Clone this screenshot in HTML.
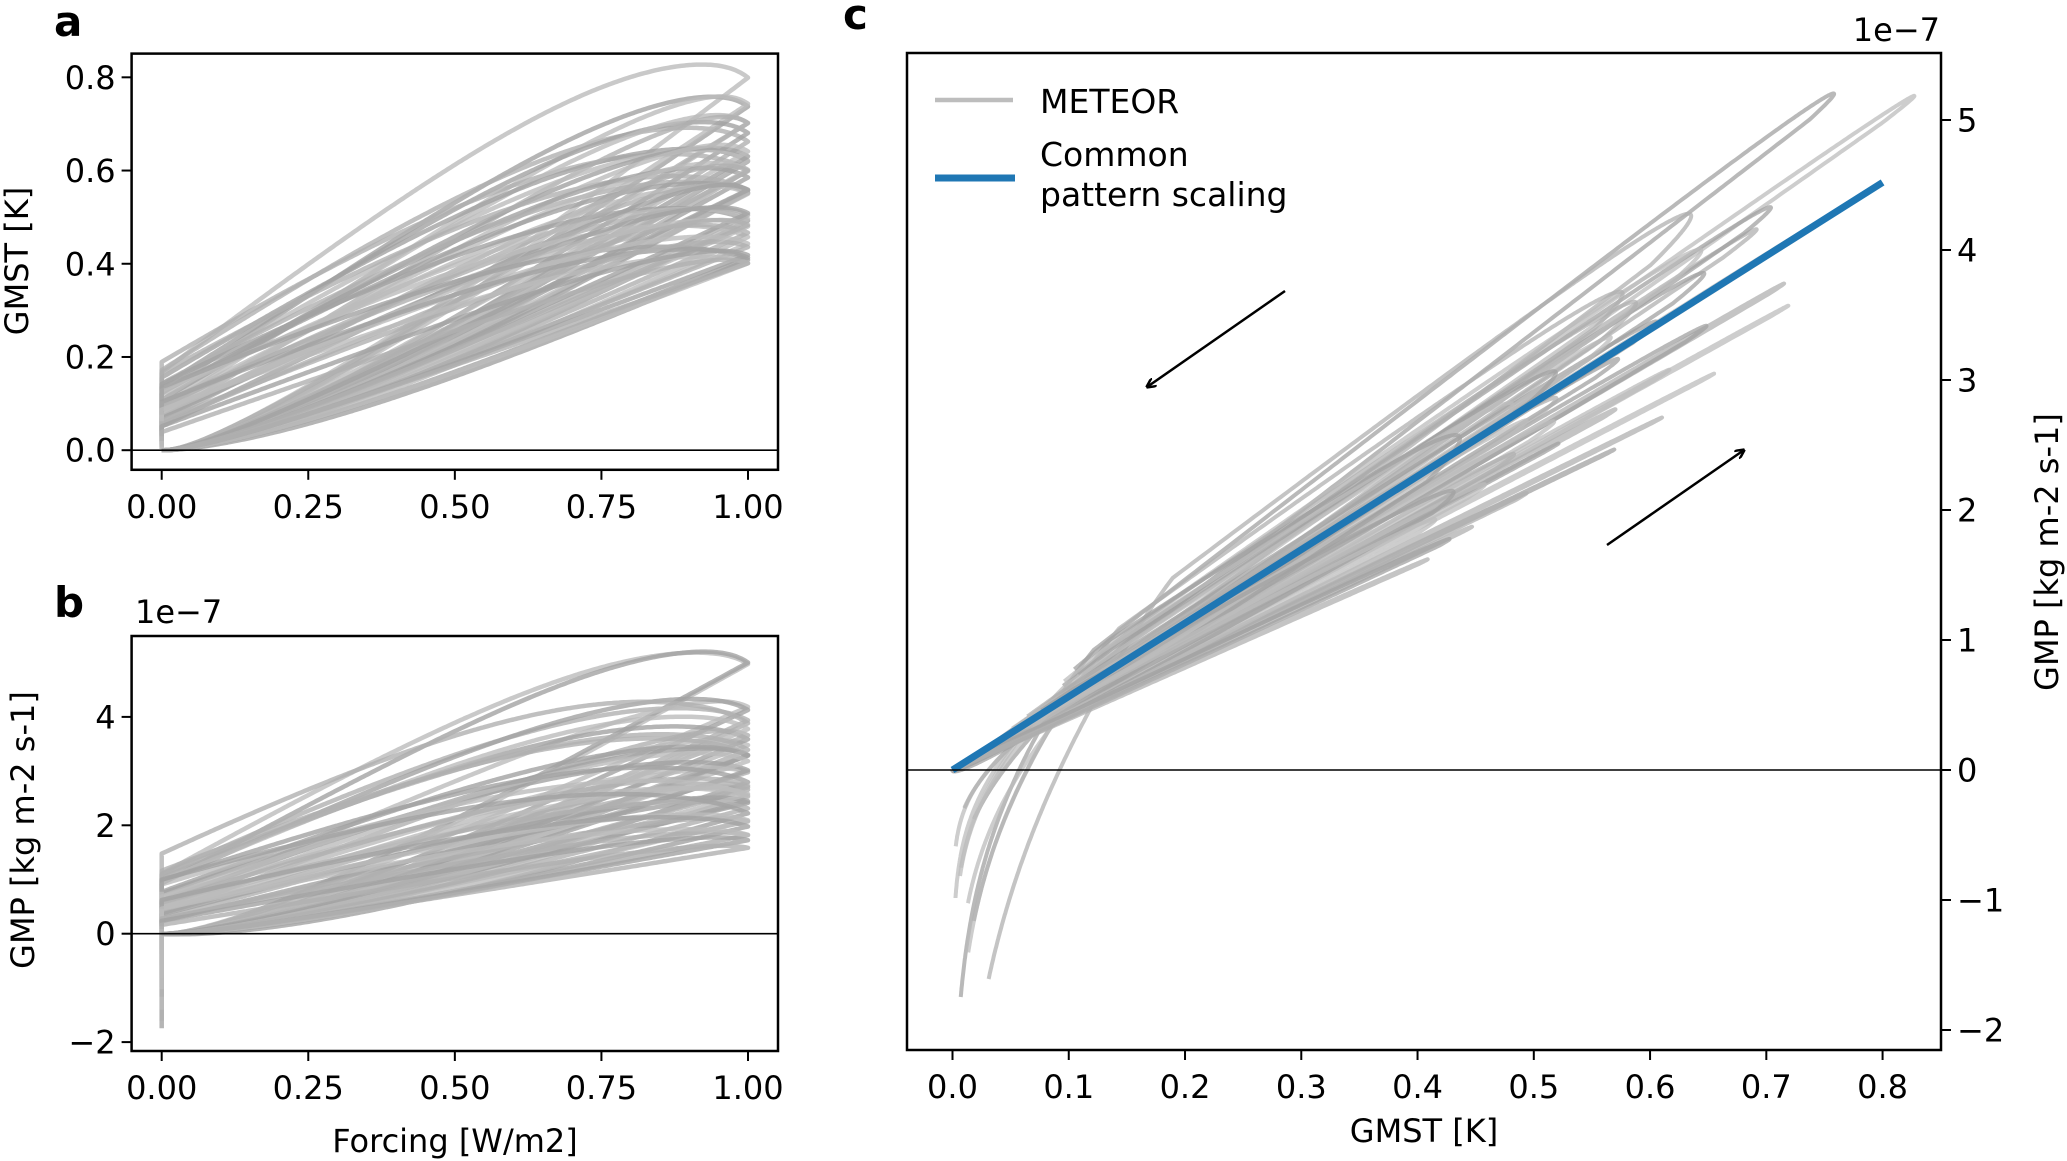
<!DOCTYPE html>
<html><head><meta charset="utf-8"><style>
html,body{margin:0;padding:0;background:#fff;}
svg{display:block;font-family:"DejaVu Sans","Liberation Sans",sans-serif;}
</style></head><body>
<svg id="fig" width="2067" height="1161" viewBox="0 0 2067 1161" xmlns="http://www.w3.org/2000/svg">
<defs>
<clipPath id="clipA"><rect x="131.6" y="53.6" width="646.4" height="416.2"/></clipPath>
<clipPath id="clipB"><rect x="131.6" y="636" width="646.4" height="415"/></clipPath>
<clipPath id="clipC"><rect x="907" y="53" width="1034" height="997"/></clipPath>
<marker id="arrowhead" markerWidth="10" markerHeight="10" refX="9" refY="5" orient="auto" markerUnits="userSpaceOnUse"><path d="M0,0 L10,5 L0,10" fill="none" stroke="#000" stroke-width="2.5"/></marker>
</defs>
<g id="panelA"><g id="linesA" clip-path="url(#clipA)"></g></g>
<g id="panelB"><g id="linesB" clip-path="url(#clipB)"></g></g>
<g id="panelC"><g id="linesC" clip-path="url(#clipC)"></g></g>
<g id="axes"></g>

<text x="54" y="36" font-size="42" font-weight="bold">a</text>
<text x="54" y="617" font-size="42" font-weight="bold">b</text>
<text x="843" y="29" font-size="42" font-weight="bold">c</text>

<text x="0" y="0" font-size="32" text-anchor="middle" transform="translate(28,261) rotate(-90)">GMST [K]</text>
<text x="0" y="0" font-size="32" text-anchor="middle" transform="translate(34,830) rotate(-90)">GMP [kg m-2 s-1]</text>
<text x="455" y="1152" font-size="32" text-anchor="middle">Forcing [W/m2]</text>
<text x="135" y="623" font-size="32">1e−7</text>
<text x="1940" y="41" font-size="32" text-anchor="end">1e−7</text>
<text x="1424" y="1142" font-size="32" text-anchor="middle">GMST [K]</text>
<text x="0" y="0" font-size="32" text-anchor="middle" transform="translate(2058,552) rotate(-90)">GMP [kg m-2 s-1]</text>

<g>
<line x1="935" y1="100" x2="1013" y2="100" stroke="#bdbdbd" stroke-width="4.5"/>
<text x="1040" y="113" font-size="33">METEOR</text>
<line x1="935" y1="178" x2="1015" y2="178" stroke="#1f77b4" stroke-width="7"/>
<text x="1040" y="166" font-size="33">Common</text>
<text x="1040" y="206" font-size="33">pattern scaling</text>
</g>
<line x1="1285" y1="291" x2="1147" y2="387" stroke="#000" stroke-width="2.5" marker-end="url(#arrowhead)"/>
<line x1="1607" y1="545" x2="1744" y2="450" stroke="#000" stroke-width="2.5" marker-end="url(#arrowhead)"/>
</svg>
<script>
// ---- per-model data ----
const modelGain   = [0.97,0.86,0.84,0.83,0.82,0.80,0.80,0.78,0.77,0.76,0.74,0.73,0.72,0.71,0.70,0.69,0.68,0.66,0.65,0.64,0.63,0.62,0.61,0.60,0.59,0.58,0.57,0.56,0.55,0.54,0.53,0.52,0.50,0.49,0.47,0.44];
const modelTau    = [0.26,0.22,0.30,0.18,0.25,0.34,0.20,0.29,0.16,0.27,0.23,0.32,0.19,0.26,0.30,0.21,0.28,0.17,0.24,0.31,0.20,0.28,0.15,0.25,0.30,0.20,0.27,0.22,0.33,0.18,0.24,0.29,0.21,0.27,0.19,0.16];
const modelFast   = [0.35,0.40,0.30,0.50,0.35,0.25,0.45,0.30,0.55,0.35,0.40,0.25,0.50,0.35,0.30,0.45,0.35,0.55,0.40,0.25,0.50,0.30,0.55,0.40,0.25,0.45,0.35,0.40,0.20,0.50,0.35,0.30,0.45,0.35,0.50,0.55];
const modelEta    = [6.6,7.6,6.4,5.9,6.8,7.8,5.1,6.6,5.5,7.2,5.7,7.0,4.8,6.3,7.6,5.3,6.0,4.6,6.7,6.9,5.2,5.7,4.5,6.4,7.1,5.0,5.6,6.2,7.4,4.7,5.4,6.0,4.4,5.3,4.6,4.2];
const modelBeta   = [-0.3,-0.6,-0.3,-0.2,-0.5,-0.8,-0.1,-0.5,-0.2,-0.7,-0.3,-0.6,-0.1,-0.4,-0.8,-0.2,-0.3,-0.1,-0.5,-0.6,-0.2,-0.3,-0.1,-0.5,-0.7,-0.1,-0.3,-0.4,-0.8,-0.2,-0.3,-0.5,-0.1,-0.3,-0.2,-0.1];
const modelTailDip= [0.0,-1.8,0.0,-1.0,0.0,-1.85,0.0,-0.5,0.0,-1.5,0.0,0.0,-0.6,0.0,-1.3,0.0,0.0,0.0,-0.8,0.0,0.0,-1.1,0.0,0.0,0.0,0.0,-0.35,0.0,0.0,0.0,-0.85,0.0,0.0,0.0,0.0,0.0];
// common pattern scaling line
const commonGMST  = [0.0, 0.8];
const commonGMP   = [0.0, 4.52];
// ticks
const ticksA_x = [0,0.25,0.5,0.75,1.0];
const ticksA_xLabels = ["0.00","0.25","0.50","0.75","1.00"];
const ticksA_y = [0,0.2,0.4,0.6,0.8];
const ticksA_yLabels = ["0.0","0.2","0.4","0.6","0.8"];
const ticksB_y = [-2,0,2,4];
const ticksB_yLabels = ["\u22122","0","2","4"];
const ticksC_x = [0,0.1,0.2,0.3,0.4,0.5,0.6,0.7,0.8];
const ticksC_xLabels = ["0.0","0.1","0.2","0.3","0.4","0.5","0.6","0.7","0.8"];
const ticksC_y = [-2,-1,0,1,2,3,4,5];
const ticksC_yLabels = ["\u22122","\u22121","0","1","2","3","4","5"];

// ---- scales ----
const xA = f => 161.7 + f*586.3;
const yA = t => 450.2 - t*466.1;
const yB = p => 933.7 - p*54.2;
const xC = t => 952.5 + t*1162.6;
const yC = p => 770 - p*130;

const NS = "http://www.w3.org/2000/svg";
function mk(tag, attrs, parent){const e=document.createElementNS(NS,tag);for(const k in attrs)e.setAttribute(k,attrs[k]);parent.appendChild(e);return e;}

function simulate(i){
  const K=modelGain[i], tau=modelTau[i], ff=modelFast[i], eta=modelEta[i], beta=modelBeta[i], dip=modelTailDip[i];
  const tf=0.03, dt=0.004, hold=0.6;
  let Tf=0, Ts=0; const out=[];
  for(let t=0;t<=2+hold+1e-9;t+=dt){
    const F = t<=1 ? t : (t<=2 ? 2-t : 0);
    const T = Tf+Ts;
    let P = eta*T + beta*F;
    if(t>2) P += dip*Math.min(1,(t-2)/hold);
    if(t>2 && dip===0 && t>2.08) break;
    out.push([F,T,P]);
    Tf += dt*(K*ff*F - Tf)/tf;
    Ts += dt*(K*(1-ff)*F - Ts)/tau;
  }
  return out;
}

const gA=document.getElementById('linesA'), gB=document.getElementById('linesB'), gC=document.getElementById('linesC');
for(let i=0;i<modelGain.length;i++){
  const s=simulate(i);
  const col = (i%3===0)?'#bcbcbc':((i%3===1)?'#a2a2a2':'#b0b0b0');
  const dA=s.map((p,k)=>(k?'L':'M')+xA(p[0]).toFixed(1)+','+yA(p[1]).toFixed(1)).join('');
  const dB=s.map((p,k)=>(k?'L':'M')+xA(p[0]).toFixed(1)+','+yB(p[2]).toFixed(1)).join('');
  const dC=s.map((p,k)=>(k?'L':'M')+xC(p[1]).toFixed(1)+','+yC(p[2]).toFixed(1)).join('');
  const a=mk('path',{d:dA,fill:'none',stroke:col,'stroke-width':4.5,'stroke-opacity':0.8,'stroke-linejoin':'round'},gA);
  
  
  const b=mk('path',{d:dB,fill:'none',stroke:col,'stroke-width':4.5,'stroke-opacity':0.8,'stroke-linejoin':'round'},gB);
  
  
  const c=mk('path',{d:dC,fill:'none',stroke:col,'stroke-width':4,'stroke-opacity':0.75,'stroke-linejoin':'round'},gC);
  
  
}
const bl=mk('line',{x1:xC(commonGMST[0]),y1:yC(commonGMP[0]),x2:xC(commonGMST[1]),y2:yC(commonGMP[1]),stroke:'#1f77b4','stroke-width':7},gC);



// ---- axes ----
const ax=document.getElementById('axes');
function frame(x,y,w,h,name){
  const r=mk('rect',{x:x,y:y,width:w,height:h,fill:'none',stroke:'#000','stroke-width':2.5},ax);
  
  
}
function zero(x1,x2,y,name){
  const l=mk('line',{x1:x1,x2:x2,y1:y,y2:y,stroke:'#000','stroke-width':1.6},ax);
  
  
}
function xticks(vals,labels,sx,yb,name){
  vals.forEach((v,k)=>{
    const x=sx(v);
    const t=mk('line',{x1:x,x2:x,y1:yb,y2:yb+10,stroke:'#000','stroke-width':2},ax);
    
    
    const tx=mk('text',{x:x,y:yb+48,'font-size':32,'text-anchor':'middle'},ax);
    tx.textContent=labels[k];
    
    
  });
}
function yticks(vals,labels,sy,xb,dir,name){
  vals.forEach((v,k)=>{
    const y=sy(v);
    const t=mk('line',{x1:xb,x2:xb+dir*10,y1:y,y2:y,stroke:'#000','stroke-width':2},ax);
    
    
    const tx=mk('text',{x:xb+dir*16,y:y+11.5,'font-size':32,'text-anchor':dir<0?'end':'start'},ax);
    tx.textContent=labels[k];
    
    
  });
}
// panel a
zero(131.6,778,yA(0),'zero-line-a');
frame(131.6,53.6,646.4,416.2,'axes-frame-a');
xticks(ticksA_x,ticksA_xLabels,xA,469.8,'x-axis-a');
yticks(ticksA_y,ticksA_yLabels,yA,131.6,-1,'y-axis-a');
// panel b
zero(131.6,778,yB(0),'zero-line-b');
frame(131.6,636,646.4,415,'axes-frame-b');
xticks(ticksA_x,ticksA_xLabels,xA,1051,'x-axis-b');
yticks(ticksB_y,ticksB_yLabels,yB,131.6,-1,'y-axis-b');
// panel c
zero(907,1941,yC(0),'zero-line-c');
frame(907,53,1034,997,'axes-frame-c');
xticks(ticksC_x,ticksC_xLabels,xC,1050,'x-axis-c');
yticks(ticksC_y,ticksC_yLabels,yC,1941,1,'y-axis-c');
</script>
</body></html>
